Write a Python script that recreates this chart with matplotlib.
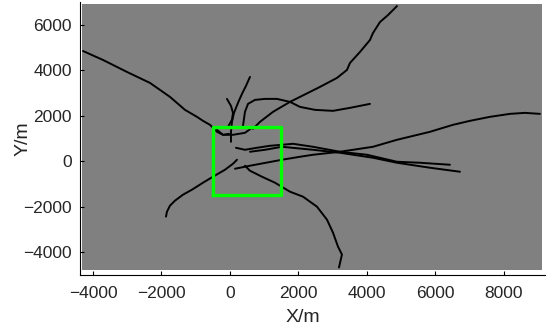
import numpy as np
import matplotlib
matplotlib.use('Agg')
import matplotlib.pyplot as plt

plt.rcParams['font.family'] = ['Liberation Sans', 'DejaVu Sans']

# gray area covered by the scan points
area_x = [-4320, 9120]
area_y = [-4780, 6900]

# green box
box_x = [-500, 1500, 1500, -500, -500]
box_y = [-1500, -1500, 1500, 1500, -1500]

# trajectories (m)
t1_x = [-4292, -3708, -3008, -2336, -1752, -1314, -964, -788, -584, -380, -204, -29]
t1_y = [4846, 4452, 3925, 3443, 2829, 2259, 1952, 1776, 1601, 1294, 1162, 1206]

t2_x = [4876, 4614, 4380, 4176, 4088, 3796, 3504, 3416, 3124, 2628, 2336, 1752, 1256, 876, 672]
t2_y = [6820, 6425, 6118, 5636, 5329, 4803, 4320, 4013, 3662, 3268, 3048, 2610, 2171, 1732, 1425]

t3_x = [380, 438, 526, 730, 1022, 1372, 1752, 2044, 2482, 3008, 3504, 4088]
t3_y = [1557, 2171, 2522, 2697, 2741, 2741, 2610, 2390, 2259, 2215, 2347, 2522]

t4_x = [584, 467, 350, 234, 117, 58, 29, 29]
t4_y = [3706, 3311, 2961, 2566, 2127, 1732, 1294, 855]

t5_x = [-88, 29, 88, 58, -58]
t5_y = [2741, 2434, 2127, 1820, 1513]

t6_x = [-380, -204, 88, 438, 642]
t6_y = [1382, 1162, 1162, 1250, 1469]

ta_x = [146, 584, 1051, 1518, 2044, 2424, 3212, 4176, 4876, 5840, 6512, 7008, 7592, 8176, 8614, 9052]
ta_y = [-329, -197, -66, 66, 197, 285, 417, 636, 943, 1294, 1601, 1776, 1952, 2083, 2127, 2083]

tb_x = [175, 438, 788, 1168, 1518, 1840, 2424, 3212, 4000, 4876, 5548, 6424]
tb_y = [592, 504, 592, 680, 724, 768, 636, 417, 285, -22, -66, -154]

tc_x = [584, 1022, 1518, 2424, 3212, 4176, 4876, 5840, 6716]
tc_y = [417, 504, 636, 504, 373, 154, -66, -285, -461]

ts_x = [438, 584, 934, 1314, 1752, 2132, 2540, 2832, 3008, 3154, 3270, 3183]
ts_y = [-197, -417, -680, -943, -1338, -1557, -1996, -2566, -3136, -3750, -4101, -4671]

td_x = [-1869, -1840, -1752, -1606, -1372, -1110, -788, -496, -146, 88, 204]
td_y = [-2434, -2215, -1952, -1732, -1469, -1250, -943, -680, -373, -110, 66]

tracks = [(t1_x, t1_y), (t2_x, t2_y), (t3_x, t3_y), (t4_x, t4_y), (t5_x, t5_y),
          (t6_x, t6_y), (ta_x, ta_y), (tb_x, tb_y), (tc_x, tc_y), (ts_x, ts_y), (td_x, td_y)]

fig = plt.figure(figsize=(5.53, 3.35), dpi=100)
ax = fig.add_axes([80/553, 60/335, 465/553, 273/335])

ax.fill_between(area_x, area_y[0], area_y[1], color='#808080', lw=0)

for x, y in tracks:
    ax.plot(x, y, color='black', lw=1.4, solid_capstyle='round')

ax.plot(box_x, box_y, color='#00ff00', lw=2.4)

ax.set_xlim(-4380, 9200)
ax.set_ylim(-5000, 7000)
ax.set_xticks([-4000, -2000, 0, 2000, 4000, 6000, 8000])
ax.set_yticks([-4000, -2000, 0, 2000, 4000, 6000])
ax.spines['top'].set_visible(False)
ax.spines['right'].set_visible(False)
ax.tick_params(direction='in', length=3, labelsize=12.5, labelcolor='#262626')
ax.tick_params(axis='x', pad=8)
ax.tick_params(axis='y', pad=6)
ax.set_xlabel('X/m', fontsize=14, color='#262626')
ax.set_ylabel('Y/m', fontsize=14, color='#262626')
ax.xaxis.set_label_coords(0.48, -0.124)
ax.yaxis.set_label_coords(-0.105, 0.5)

fig.savefig('out.png', dpi=100)
